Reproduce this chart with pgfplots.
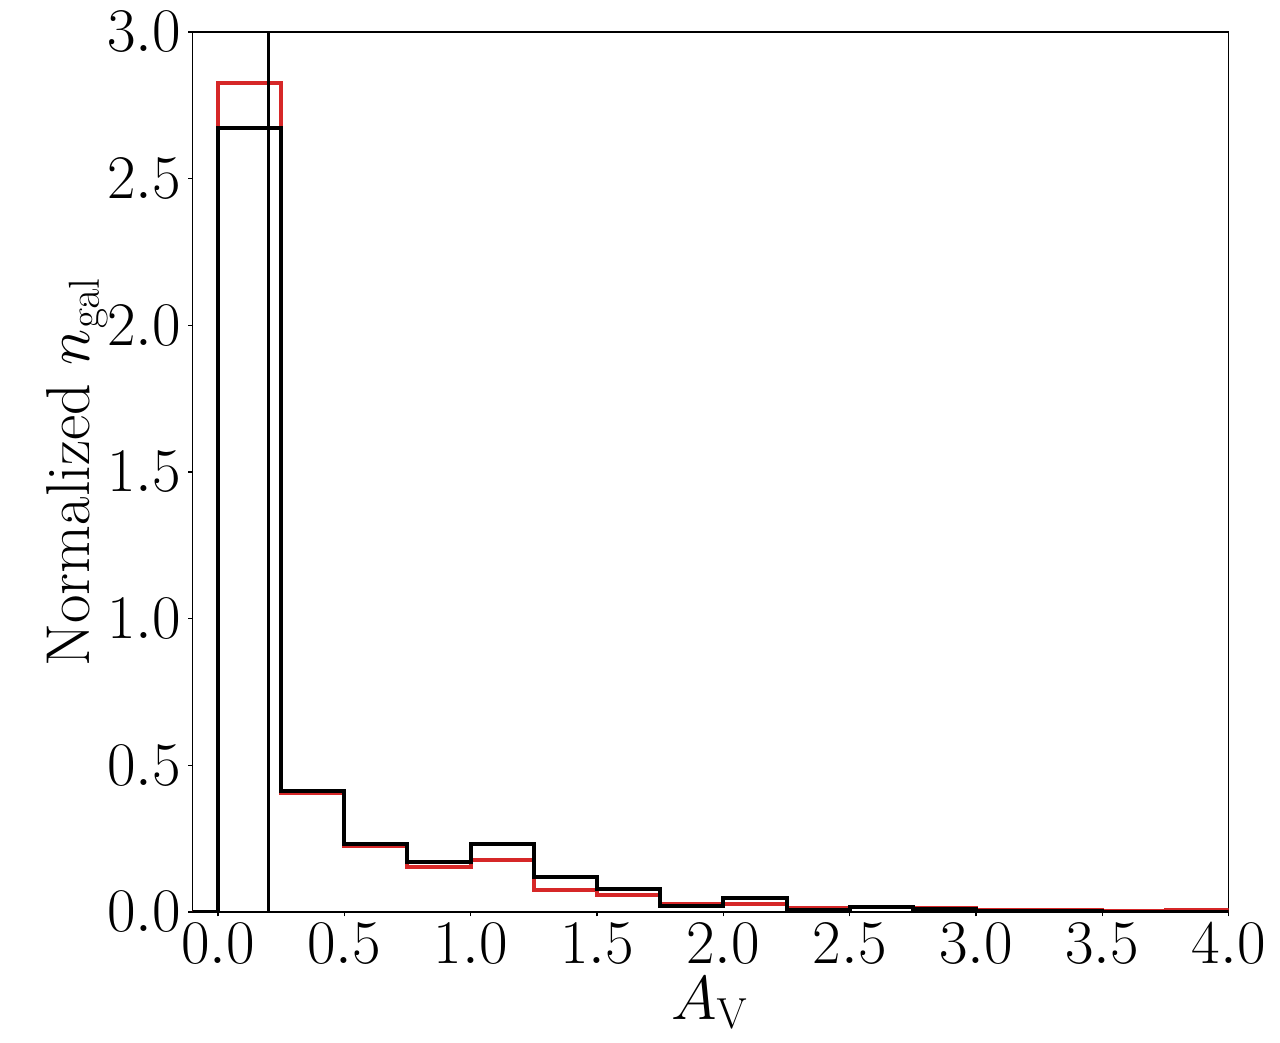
\RequirePackage{fix-cm}
\documentclass[border=0pt]{standalone}
\usepackage{pgfplots}
\pgfplotsset{compat=1.18}
\definecolor{tabred}{HTML}{D62728}
\begin{document}
\begin{tikzpicture}
\useasboundingbox (-96.35pt,-65.5pt) rectangle (543.65pt,456pt);
\begin{axis}[
  at={(0,0)}, anchor=south west,
  scale only axis, width=518pt, height=440pt,
  xmin=-0.1, xmax=4.0, ymin=0, ymax=3.0,
  xtick={0,0.5,...,4.0}, ytick={0,0.5,...,3.0},
  xticklabel style={/pgf/number format/.cd, fixed, fixed zerofill, precision=1},
  yticklabel style={/pgf/number format/.cd, fixed, fixed zerofill, precision=1},
  tick align=outside, major tick length=2.2pt,
  xtick pos=bottom, ytick pos=left,
  axis line style={line width=0.6pt},
  every tick/.style={black, line width=0.6pt},
  tick label style={font=\fontsize{31}{37}\selectfont},
  label style={font=\fontsize{31}{37}\selectfont},
  xlabel={$A_{\rm V}$}, ylabel={Normalized $n_{\rm gal}$},
  xlabel style={at={(axis description cs:0.499,-0.066)}, anchor=north},
  ylabel style={at={(axis description cs:-0.148,0.5)}, anchor=north},
  clip=true,
]
\addplot[const plot mark left, tabred, line width=2pt] coordinates {
(-0.25,0) (0,2.825) (0.25,0.405) (0.5,0.224) (0.75,0.152) (1.0,0.176) (1.25,0.075) (1.5,0.058)
(1.75,0.026) (2.0,0.028) (2.25,0.012) (2.5,0.018) (2.75,0.014) (3.0,0.006) (3.25,0.006)
(3.5,0.003) (3.75,0.006) (4.0,0.006)};
\addplot[const plot mark left, black, line width=2pt] coordinates {
(-0.25,0) (0,2.672) (0.25,0.413) (0.5,0.231) (0.75,0.169) (1.0,0.233) (1.25,0.118) (1.5,0.08)
(1.75,0.02) (2.0,0.047) (2.25,0.008) (2.5,0.018) (2.75,0.01) (3.0,0.002) (3.25,0.002)
(3.5,0.001) (3.75,0) (4.0,0)};
\addplot[black, line width=1.2pt] coordinates {(0.2,0) (0.2,3.0)};
\end{axis}
\end{tikzpicture}
\end{document}
